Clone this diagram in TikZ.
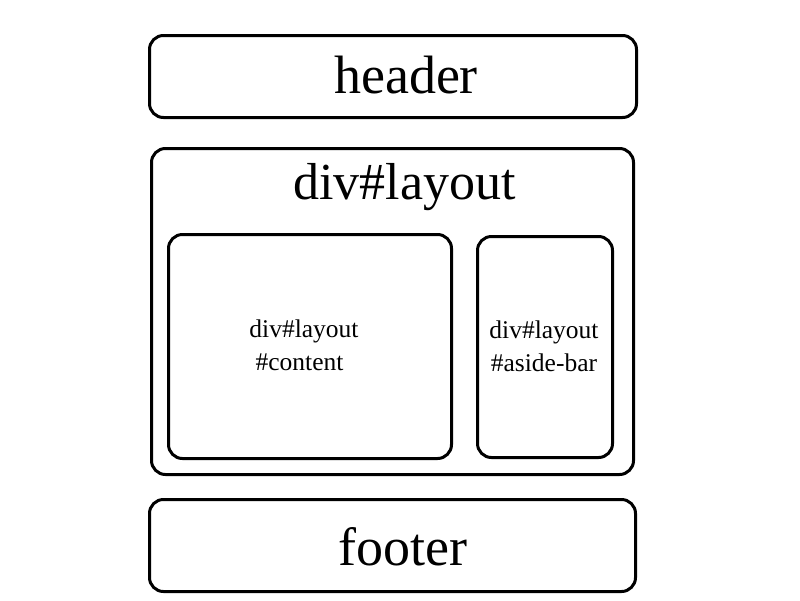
\documentclass[tikz,border=0pt]{standalone}
\usepackage{fontspec}
\setmainfont{Liberation Serif}
\tikzset{
  block/.style={draw, line width=3pt, rounded corners=14pt, inner sep=0pt},
  big/.style={font=\fontsize{52}{58}\selectfont},
  small/.style={font=\fontsize{25.5}{33}\selectfont, align=center},
}
\begin{document}
\begin{tikzpicture}[x=1pt, y=-1pt]
\useasboundingbox (0,0) rectangle (800,600);

\node[block, minimum width=487pt, minimum height=82pt] (header) at (393,76.5) {};
\node[big, font=\fontsize{54}{60}\selectfont] (headertext) at (406,75) {header};

\node[block, minimum width=482pt, minimum height=326pt] (layout) at (392.5,311.5) {};
\node[big] (layouttext) at (404.5,187) {div\#layout};

\node[block, minimum width=283pt, minimum height=224pt] (content) at (310,346.5) {};
\node[small] (contenttext) at (304,345) {div\#layout\\ \#content\hspace*{9pt}};

\node[block, minimum width=135pt, minimum height=221pt] (aside) at (545,347) {};
\node[small] (asidetext) at (544,346) {div\#layout\\ \#aside-bar};

\node[block, minimum width=486pt, minimum height=92pt] (footer) at (392.5,545.5) {};
\node[big, font=\fontsize{54}{60}\selectfont] (footertext) at (403,547) {footer};

\end{tikzpicture}
\end{document}
